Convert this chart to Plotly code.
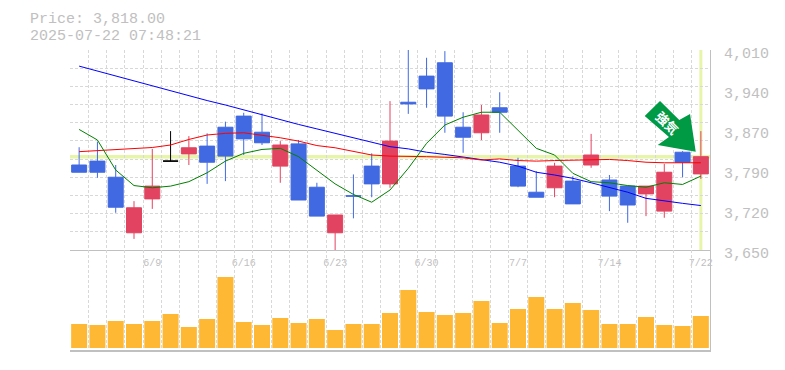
import plotly.graph_objects as go

header_price = "Price: 3,818.00"
header_time = "2025-07-22 07:48:21"
current_price = 3818

opens = [3803,3810,3781,3681,3742,3810,3823,3837,3871,3891,3862,3801,3841,3763,3681,3747.5,3801,3769,3916,3963,3987,3871,3861,3906,3801,3754,3762,3774,3803,3776,3765,3751,3720,3826,3787]
closes = [3790,3790,3727,3726,3765,3810,3834,3808,3819,3850,3843,3839,3740,3711,3713,3747,3769,3846,3913,3940,3891,3853,3893,3898,3765,3745,3801,3733,3821,3747,3731,3765,3790,3808,3818]
highs = [3835,3845,3803,3738,3832,3864,3855,3860,3881,3897,3896,3846,3848,3771,3713,3786,3824,3918,4010,3996,4008,3898,3911,3934,3816,3792,3807,3783,3859,3785,3765,3765,3805,3828,3864]
lows = [3790,3780,3717,3670,3724,3810,3803,3769,3774,3821,3839,3771,3740,3711,3650,3707,3745,3762,3895,3906,3861,3825,3848,3861,3763,3745,3745,3733,3798,3720,3699,3711,3708,3781,3778]
ma_short = [3867,3848,3794,3766,3762,3765,3773,3789,3810,3824,3831,3833,3818,3794,3769,3750,3736,3758,3797,3842,3875,3889,3898,3898,3866,3833,3821,3788,3773,3771,3766,3763,3771,3768,3783]
ma_mid = [3827,3829,3830,3832,3834.5,3839,3849,3857,3860,3861,3857,3852,3846,3838,3834,3828,3821,3819,3819,3818,3817,3816,3812,3814,3811,3810,3811,3812,3813,3813,3811,3808,3807,3807,3807]
ma_long = [3981,3972,3963,3954,3945,3936,3928,3919,3911,3902,3894,3885,3876,3868,3860,3852,3843,3836,3832,3826,3822,3817,3813,3808,3801,3790,3785,3779,3771,3763,3754,3743,3738,3734,3730]
volumes = [24,23,27,24,27,34,21,29,71,26,23,30,25,29,18,24,24,35,58,36,33,35,47,25,39,51,39,45,38,24,24,31,23,22,32]
date_ticks = [4, 9, 14, 19, 24, 29, 34]
date_labels = ["6/9", "6/16", "6/23", "6/30", "7/7", "7/14", "7/22"]
price_ticks = [3650, 3722, 3794, 3866, 3938, 4010]
price_labels = ["3,650", "3,720", "3,790", "3,870", "3,940", "4,010"]

GRAY = "#c0c0c0"
GRID = "#d8d8d8"
FONT = "Liberation Mono"
BLUE = "#4169e1"
RED = "#e24360"
n = len(closes)
x = list(range(n))
black_doji = [5]
main = [i for i in x if i not in black_doji]

fig = go.Figure()
fig.add_trace(go.Candlestick(
    x=main, open=[opens[i] for i in main], high=[highs[i] for i in main],
    low=[lows[i] for i in main], close=[closes[i] for i in main],
    increasing=dict(line=dict(color=RED, width=1), fillcolor=RED),
    decreasing=dict(line=dict(color=BLUE, width=1), fillcolor=BLUE),
    whiskerwidth=0, showlegend=False, hoverinfo="skip"))
fig.add_trace(go.Candlestick(
    x=black_doji, open=[opens[i] for i in black_doji], high=[highs[i] for i in black_doji],
    low=[lows[i] for i in black_doji], close=[closes[i] for i in black_doji],
    increasing=dict(line=dict(color="#000000", width=1), fillcolor="#000000"),
    decreasing=dict(line=dict(color="#000000", width=1), fillcolor="#000000"),
    whiskerwidth=0, showlegend=False, hoverinfo="skip"))
for vals, col in ((ma_long, "#0000ff"), (ma_mid, "#ff0000"), (ma_short, "#008000")):
    fig.add_trace(go.Scatter(x=x, y=vals, mode="lines", line=dict(color=col, width=1),
                             showlegend=False, hoverinfo="skip"))
fig.add_trace(go.Bar(x=x, y=[v * 1000 for v in volumes], marker=dict(color="#ffb833", line=dict(width=0)),
                     xaxis="x2", yaxis="y2", showlegend=False, hoverinfo="skip"))

boundaries = [i - 0.5 for i in range(n + 1)]
y_grid = [3650 + 360 * k / 11 for k in range(12)]


def px(x_px, y_px):
    return (x_px - 70) / 640, (350 - y_px) / 300


arrow = [(660, 101), (679.3, 120), (690, 114), (695.7, 151.7), (657.7, 145), (669, 137), (644.7, 116)]
path = "M " + " L ".join("%.4f %.4f" % px(a, b) for a, b in arrow) + " Z"

fig.update_layout(
    width=785, height=370, margin=dict(l=70, r=75, t=50, b=20, autoexpand=False),
    paper_bgcolor="#ffffff", plot_bgcolor="#ffffff",
    font=dict(family=FONT, color=GRAY),
    boxgap=0.18, boxgroupgap=0, bargap=0.125, boxmode="overlay", dragmode=False,
    xaxis=dict(domain=[0, 1], range=[-0.5, n - 0.5], anchor="y", rangeslider=dict(visible=False), automargin=False,
               tickmode="array", tickvals=date_ticks, ticktext=date_labels, ticks="",
               tickfont=dict(size=10, color=GRAY, family=FONT), ticklabelstandoff=3,
               showgrid=False, zeroline=False, showline=True, linecolor=GRAY, linewidth=1,
               minor=dict(tickmode="array", tickvals=boundaries, showgrid=True, gridcolor=GRID,
                          griddash="3px,2px", gridwidth=1, ticks="")),
    yaxis=dict(domain=[1 / 3, 1], range=[3650, 4010], side="right", anchor="x", automargin=False,
               tickmode="array", tickvals=price_ticks, ticktext=price_labels, ticks="",
               tickfont=dict(size=15, color=GRAY, family=FONT), ticklabelstandoff=10, ticklabelshift=3,
               showgrid=False, zeroline=False, showline=True, linecolor=GRAY, linewidth=1,
               minor=dict(tickmode="array", tickvals=y_grid, showgrid=True, gridcolor=GRID,
                          griddash="3px,2px", gridwidth=1, ticks="")),
    xaxis2=dict(domain=[0, 1], range=[-0.5, n - 0.5], anchor="y2", showticklabels=False, ticks="", automargin=False,
                showgrid=False, zeroline=False, showline=True, linecolor=GRAY, linewidth=2,
                minor=dict(tickmode="array", tickvals=boundaries, showgrid=True, gridcolor=GRID,
                           griddash="3px,2px", gridwidth=1, ticks="")),
    yaxis2=dict(domain=[0, 1 / 3], range=[-2000, 98000], side="right", anchor="x2", automargin=False,
                showticklabels=False, ticks="", showgrid=False, zeroline=False,
                showline=True, linecolor=GRAY, linewidth=1),
    shapes=[
        dict(type="line", xref="x", yref="y", x0=-0.5, x1=n - 0.5, y0=current_price, y1=current_price,
             line=dict(color="#e6f5a8", width=3.5), layer="below"),
        dict(type="line", xref="x", yref="y", x0=n - 1, x1=n - 1, y0=3650, y1=4010,
             line=dict(color="#e6f5a8", width=3), layer="below"),
        dict(type="path", xref="paper", yref="paper", path=path, fillcolor="#009944", line=dict(width=0), layer="above"),
    ],
    annotations=[
        dict(text=header_price, xref="paper", yref="paper", x=px(28, 0)[0], y=px(0, 19.5)[1], xanchor="left",
             yanchor="middle", showarrow=False, font=dict(size=15, color=GRAY, family=FONT)),
        dict(text=header_time, xref="paper", yref="paper", x=px(28, 0)[0], y=px(0, 36)[1], xanchor="left",
             yanchor="middle", showarrow=False, font=dict(size=15, color=GRAY, family=FONT)),
        dict(text="<b>強気</b>", xref="paper", yref="paper", x=px(667.5, 0)[0], y=px(0, 122)[1], xanchor="center",
             yanchor="middle", showarrow=False, textangle=45,
             font=dict(size=13, color="#ffffff", family="Noto Sans CJK JP")),
    ],
)
fig.write_html("out.html", config=dict(displayModeBar=False), post_script="document.body.style.margin='0';")
